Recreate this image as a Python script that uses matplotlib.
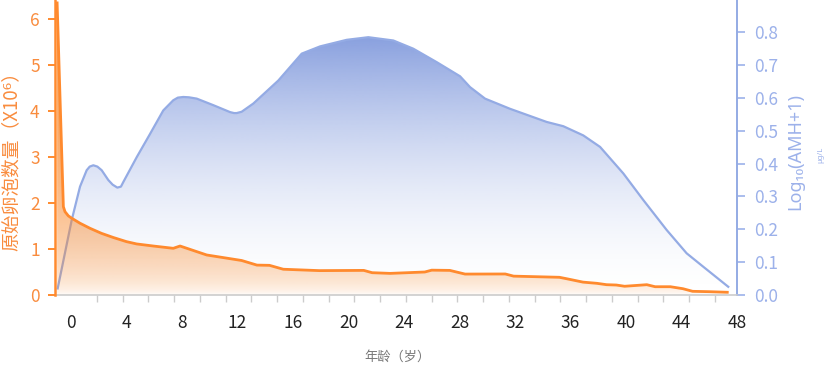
import numpy as np
import matplotlib
matplotlib.use("Agg")
import matplotlib.pyplot as plt
from matplotlib.patches import Polygon
from matplotlib.colors import to_rgb

plt.rcParams['font.family'] = ['Noto Sans CJK SC', 'DejaVu Sans']

# ---------------- data ----------------
follicle_age = [-1.0, -0.55, -0.43, -0.19, 0.05, 0.65, 1.37, 2.2, 3.05, 4.0, 4.73, 5.93,
                7.37, 7.86, 9.78, 12.3, 13.4, 14.3, 15.3, 17.9, 21.1, 21.7, 23.0,
                25.5, 26.0, 27.3, 28.4, 31.3, 31.9, 35.2, 35.7, 36.9, 37.9, 38.6,
                39.3, 39.9, 41.5, 42.1, 43.2, 44.1, 44.8, 46.0, 47.3]
follicle_count = [6.35, 1.92, 1.81, 1.72, 1.67, 1.56, 1.45, 1.34, 1.25, 1.16, 1.11, 1.065,
                  1.015, 1.065, 0.87, 0.75, 0.65, 0.645, 0.56, 0.53, 0.535, 0.485, 0.47,
                  0.50, 0.54, 0.535, 0.455, 0.457, 0.41, 0.385, 0.355, 0.28, 0.254, 0.224,
                  0.217, 0.19, 0.224, 0.18, 0.18, 0.137, 0.08, 0.072, 0.059]

amh_age = [-0.96, 0.05, 0.65, 1.13, 1.35, 1.61, 1.9, 2.21, 2.69, 3.0, 3.34, 3.6, 3.77,
           4.74, 5.69, 6.65, 7.37, 7.7, 8.09, 8.5, 9.06, 10.26, 11.46, 11.75, 11.94,
           12.3, 13.14, 14.94, 16.63, 17.95, 19.87, 21.43, 23.23, 24.67, 26.36, 28.04,
           28.76, 29.84, 31.64, 34.28, 35.48, 36.92, 38.13, 39.81, 41.25, 42.93, 44.37,
           45.57, 47.37]
amh_log = [0.02, 0.228, 0.33, 0.38, 0.391, 0.395, 0.391, 0.38, 0.35, 0.336, 0.327, 0.33,
           0.344, 0.42, 0.49, 0.562, 0.593, 0.601, 0.603, 0.602, 0.598, 0.578, 0.557,
           0.554, 0.554, 0.558, 0.583, 0.653, 0.735, 0.757, 0.777, 0.785, 0.775, 0.75,
           0.709, 0.666, 0.633, 0.598, 0.567, 0.527, 0.514, 0.486, 0.451, 0.37, 0.289,
           0.198, 0.127, 0.086, 0.025]

x_ticks = [0, 4, 8, 12, 16, 20, 24, 28, 32, 36, 40, 44, 48]
left_ticks = [0, 1, 2, 3, 4, 5, 6]
right_ticks = [0.0, 0.1, 0.2, 0.3, 0.4, 0.5, 0.6, 0.7, 0.8]

ORANGE = '#ff8a2e'
ORANGE_TXT = '#f98c3e'
BLUE = '#94abe4'
BLUE_TXT = '#9cb1ea'
GRAY = '#cccccc'

W, H = 830, 366
fig = plt.figure(figsize=(W / 100, H / 100), dpi=100)
ax = fig.add_axes([55 / W, 1 - 295 / H, (737 - 55) / W, 295 / H])
axo = ax.twinx()


def gradient_fill(a, x, y, color, alpha_top, power, zorder):
    verts = [(x[0], 0)] + list(zip(x, y)) + [(x[-1], 0)]
    patch = Polygon(verts, closed=True, facecolor='none', edgecolor='none')
    a.add_patch(patch)
    n = 400
    t = np.linspace(0, 1, n)[:, None]
    rgba = np.zeros((n, 1, 4))
    rgba[..., :3] = to_rgb(color)
    rgba[..., 3] = alpha_top * t ** power
    im = a.imshow(rgba, extent=[min(x), max(x), 0, max(y)], origin='lower',
                  aspect='auto', zorder=zorder, interpolation='bilinear')
    im.set_clip_path(patch)


# blue (AMH) on base axes, axis on the right
gradient_fill(ax, amh_age, amh_log, '#7f98dc', 0.92, 1.7, 1)
ax.plot(amh_age, amh_log, color=BLUE, lw=1.6, zorder=3)

# orange (follicles) on twin axes, axis on the left
gradient_fill(axo, follicle_age, follicle_count, '#f8872a', 0.95, 0.5, 1)
axo.plot(follicle_age, follicle_count, color=ORANGE, lw=2.0, zorder=3)

xmin = -16 / 13.875
ax.set_xlim(xmin, 48)
ax.set_ylim(0, 295 / 328.4)
axo.set_ylim(0, 295 / 46.0)
axo.set_xlim(xmin, 48)

# right axis (blue)
ax.yaxis.tick_right()
ax.set_yticks(right_ticks)
ax.set_yticklabels([f'{v:.1f}' for v in right_ticks])
ax.tick_params(axis='y', colors=BLUE_TXT, length=6, width=1.2, pad=6, labelsize=12.5,
               labelcolor=BLUE_TXT)
for s in ['top', 'left']:
    ax.spines[s].set_visible(False)
ax.spines['right'].set_color(BLUE)
ax.spines['right'].set_linewidth(1.4)
ax.spines['bottom'].set_color(GRAY)
ax.spines['bottom'].set_linewidth(1.2)

# x axis
ax.set_xticks(x_ticks)
ax.set_xticklabels([str(v) for v in x_ticks])
ax.tick_params(axis='x', length=0, pad=14, labelsize=12.5, labelcolor='#222222')
ax.set_xticks(list(np.linspace(0, 46.41, 26)), minor=True)
ax.tick_params(axis='x', which='minor', length=5, width=1, color=GRAY)

# left axis (orange)
axo.yaxis.tick_left()
axo.set_yticks(left_ticks)
axo.set_yticklabels([str(v) for v in left_ticks])
axo.tick_params(axis='y', colors=ORANGE, length=5, width=1.4, pad=6, labelsize=12.5,
                labelcolor=ORANGE_TXT)
for s in ['top', 'right', 'bottom']:
    axo.spines[s].set_visible(False)
axo.spines['left'].set_color(ORANGE)
axo.spines['left'].set_linewidth(1.8)

# labels
fig.text(11 / W, 1 - 157 / H, '原始卵泡数量（X10⁶）', rotation=90, ha='center', va='center',
         color=ORANGE_TXT, fontsize=13.5)
fig.text(795 / W, 1 - 152 / H, 'Log₁₀(AMH+1)', rotation=90, ha='center', va='center',
         color=BLUE_TXT, fontsize=13, family=['Noto Sans', 'DejaVu Sans'])
fig.text(821 / W, 1 - 155 / H, 'μg/L', rotation=90, ha='center', va='center',
         color=BLUE_TXT, fontsize=5.5, family=['Noto Sans', 'DejaVu Sans'])
fig.text(397 / W, 1 - 357 / H, '年龄（岁）', ha='center', va='center',
         color='#777777', fontsize=9.5)

fig.savefig('out.png', dpi=100)
